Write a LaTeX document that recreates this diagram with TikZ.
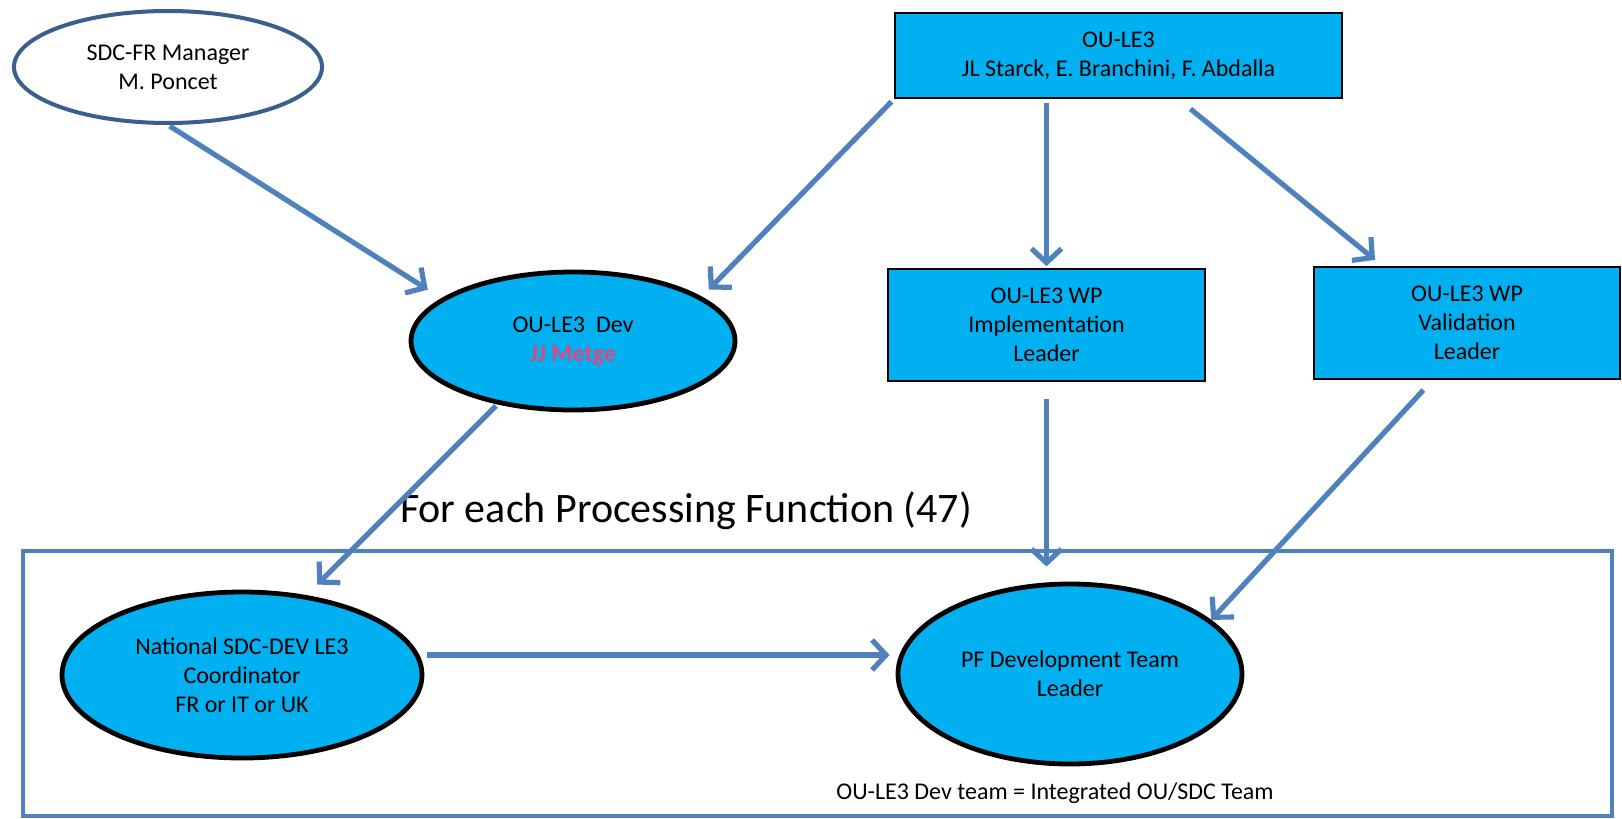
\documentclass[tikz,border=0pt]{standalone}
\usepackage{fontspec}
\setmainfont{Carlito}
\usepackage{tikz}
\usetikzlibrary{
	shapes.geometric,
	arrows.meta
}
\definecolor{teamfill}{HTML}{00B0F0}
\definecolor{linkblue}{HTML}{4F81BD}
\definecolor{mgrline}{HTML}{3A5F8F}
\definecolor{namepink}{HTML}{E2457E}
\tikzset{
	oval/.style={ellipse,draw=black,line width=2.4pt,fill=teamfill,inner sep=0pt,align=center,font=\fontsize{12}{14.5}\selectfont},
	wpbox/.style={rectangle,draw=black,line width=0.8pt,fill=teamfill,inner sep=0pt,align=center,font=\fontsize{12}{14.5}\selectfont},
	link/.style={draw=linkblue,line width=2.6pt,-{Straight Barb[length=7pt,width=15pt]}}
}

\begin{document}
\begin{tikzpicture}[x=0.5pt,y=-0.5pt]
    \useasboundingbox (0,0) rectangle (1622,819);
    \draw[linkblue,line width=2.2pt] (23,551) rectangle (1612,816);
    \draw
        node [oval,draw=mgrline,line width=2pt,fill=white,minimum width=154pt,minimum height=56pt] (sdcfr) at (168,67) {SDC-FR Manager\\M. Poncet}
        node [wpbox,minimum width=223.5pt,minimum height=42.5pt] (oule3) at (1118.5,55.5) {OU-LE3\\JL Starck, E. Branchini, F. Abdalla}
        node [oval,minimum width=162pt,minimum height=69pt] (dev) at (573,341) {OU-LE3\ \ Dev\\{\color{namepink}\bfseries JJ Metge}}
        node [wpbox,minimum width=158.5pt,minimum height=56pt] (impl) at (1046.5,325) {OU-LE3 WP\\Implementation\\Leader}
        node [wpbox,minimum width=153pt,minimum height=56pt] (valid) at (1467,323) {OU-LE3 WP\\Validation\\Leader}
        node [font=\fontsize{21}{25}\selectfont] (pfloop) at (686,511) {For each Processing Function (47)}
        node [oval,minimum width=180pt,minimum height=83pt] (natl) at (242,675) {National SDC-DEV LE3\\Coordinator\\FR or IT or UK}
        node [oval,minimum width=172pt,minimum height=90pt] (pfteam) at (1070,674) {PF Development Team\\Leader}
        node [font=\fontsize{12}{14.5}\selectfont] (note) at (1055,793) {OU-LE3 Dev team = Integrated OU/SDC Team}
    ;
    \path
		(sdcfr.south) edge[link,shorten <=1pt,shorten >=8pt] (dev.162)
		(oule3.south west) edge[link,shorten <=2pt,shorten >=5pt] (dev.19)
		(oule3.south -| impl.north) edge[link,shorten <=2pt,shorten >=1pt] (impl.north)
		(oule3.-36) edge[link,shorten <=8pt,shorten >=5pt] (valid.146)
		(dev.220) edge[link,shorten <=1pt,shorten >=7.5pt] (natl.51)
		(impl.south) edge[link,shorten <=8.5pt,shorten >=7.5pt] (impl.south |- pfteam.north)
		(valid.239) edge[link,shorten <=7pt] (pfteam.21)
		([yshift=10pt]natl.east) edge[link,shorten <=1.5pt,shorten >=3pt] ([yshift=10pt]natl.east -| pfteam.west)
    ;
\end{tikzpicture}
\end{document}
